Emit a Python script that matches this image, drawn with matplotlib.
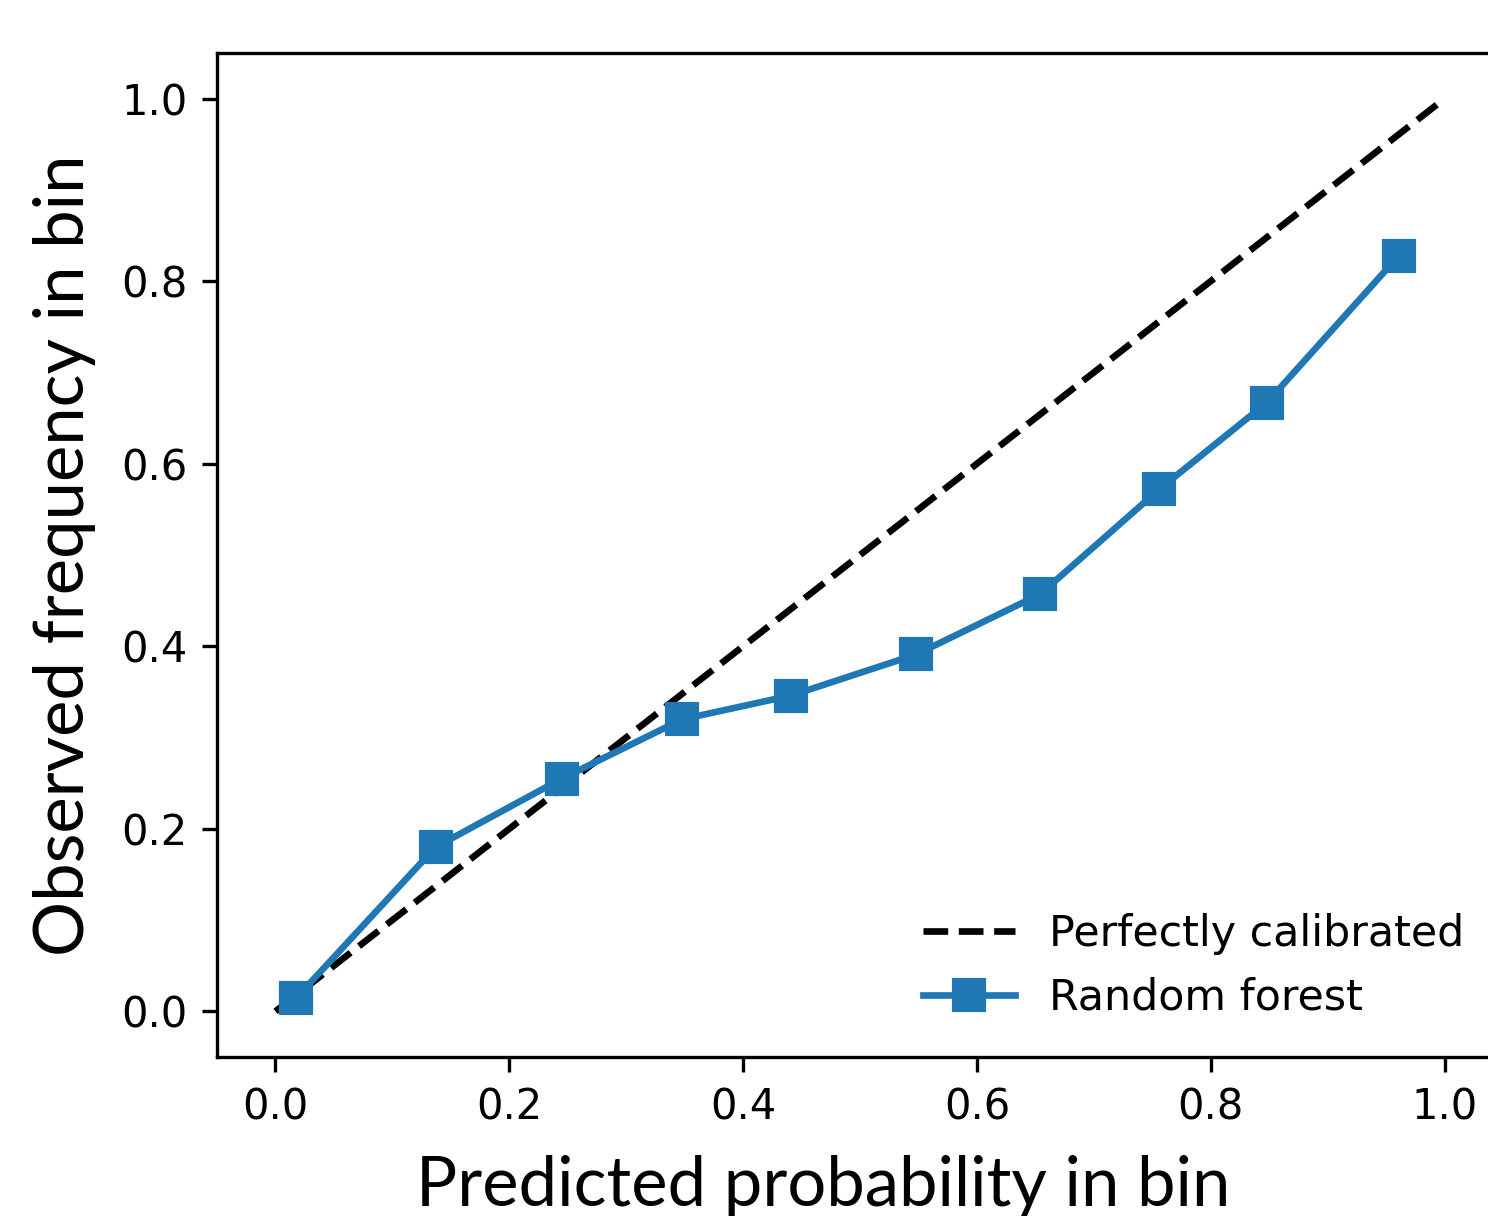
import matplotlib
matplotlib.use("Agg")
import matplotlib.pyplot as plt

# Data
perfect_x = [0.0, 1.0]
perfect_y = [0.0, 1.0]
pred_prob = [0.018, 0.137, 0.245, 0.348, 0.441, 0.548, 0.654, 0.756, 0.848, 0.961]
obs_freq = [0.015, 0.180, 0.255, 0.320, 0.346, 0.391, 0.457, 0.572, 0.667, 0.828]
ticks = [0.0, 0.2, 0.4, 0.6, 0.8, 1.0]

plt.rcParams['font.family'] = ['DejaVu Sans']
fig = plt.figure(figsize=(1488 / 300, 1216 / 300), dpi=300)
ax = fig.add_axes([217 / 1488, 1 - 1057 / 1216, (1503 - 217) / 1488, (1057 - 53) / 1216])

ax.plot(perfect_x, perfect_y, 'k--', lw=1.6, label='Perfectly calibrated')
ax.plot(pred_prob, obs_freq, 's-', color='#1f77b4', lw=1.6, markersize=7, label='Random forest')

ax.set_xlim(-0.05, 1.05)
ax.set_ylim(-0.05, 1.05)
ax.set_xticks(ticks)
ax.set_yticks(ticks)
ax.tick_params(labelsize=10)

ax.set_xlabel('Predicted probability in bin', family='Lato', fontsize=16.5)
ax.set_ylabel('Observed frequency in bin', family='Lato', fontsize=16.5)
ax.xaxis.set_label_coords(0.4716, -0.098)
ax.yaxis.set_label_coords(-0.094, 0.5)

ax.legend(loc='lower right', frameon=False, fontsize=10.25, handlelength=2.15)

fig.savefig('out.png', dpi=300)
